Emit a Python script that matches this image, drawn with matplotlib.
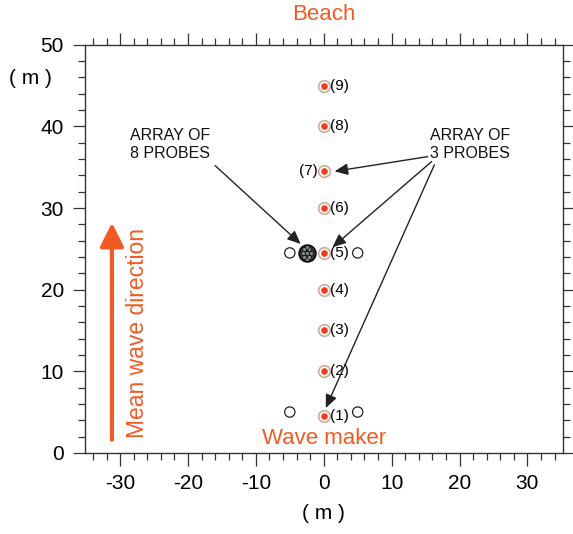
import numpy as np
import matplotlib.pyplot as plt
from matplotlib.ticker import MultipleLocator

plt.rcParams['font.family'] = ['Liberation Sans', 'DejaVu Sans']
plt.rcParams['axes.unicode_minus'] = False

ORANGE = '#f15a24'

# probe line along the centre of the basin
probe_y = [4.5, 10, 15, 20, 24.5, 30, 34.5, 40, 45]
probe_labels = ['(1)', '(2)', '(3)', '(4)', '(5)', '(6)', '(7)', '(8)', '(9)']

# side probes (open circles)
side_x = [-5, 5, -5, 5]
side_y = [5, 5, 24.5, 24.5]

# array of 8 probes
array8_x = -2.5
array8_y = 24.5

fig = plt.figure(figsize=(5.73, 5.34), dpi=100)
ax = fig.add_axes([0.148, 0.152, 0.834, 0.764])
ax.set_xlim(-35.2, 35.2)
ax.set_ylim(0, 50)

# ticks on all four sides, pointing out
ax.xaxis.set_major_locator(MultipleLocator(10))
ax.xaxis.set_minor_locator(MultipleLocator(2))
ax.yaxis.set_major_locator(MultipleLocator(10))
ax.yaxis.set_minor_locator(MultipleLocator(2))
ax.tick_params(which='both', direction='out', top=True, right=True,
               labeltop=False, labelright=False, width=0.9, color='#333333')
ax.tick_params(which='major', length=9, labelsize=15, pad=6)
ax.tick_params(which='minor', length=5)
for s in ax.spines.values():
    s.set_linewidth(1.0)
    s.set_color('#333333')

ax.set_xlabel('( m )', fontsize=15, labelpad=8)
fig.text(30 / 573, 1 - 78 / 534, '( m )', fontsize=15, ha='center', va='center')

# probes
ax.scatter(np.zeros(len(probe_y)), probe_y, s=70, facecolor='white',
           edgecolor='#c9ada0', linewidth=1.2, zorder=3)
ax.scatter(np.zeros(len(probe_y)), probe_y, s=14, color='#f03c1e', zorder=4)
for y, lab in zip(probe_y, probe_labels):
    if lab == '(7)':
        ax.text(-0.9, y, lab, fontsize=11, ha='right', va='center')
    else:
        ax.text(0.9, y, lab, fontsize=11, ha='left', va='center')

ax.scatter(side_x, side_y, s=55, facecolor='none', edgecolor='#222222',
           linewidth=0.9, zorder=3)

# cluster of 8 probes
ax.scatter([array8_x], [array8_y], s=150, facecolor='#333333',
           edgecolor='black', linewidth=1, zorder=3)
ang = np.linspace(0, 2 * np.pi, 8, endpoint=False)
ax.scatter(array8_x + 0.55 * np.cos(ang), array8_y + 0.7 * np.sin(ang), s=8,
           facecolor='#888888', edgecolor='black', linewidth=0.4, zorder=4)
ax.scatter([array8_x], [array8_y], s=8, facecolor='#888888', edgecolor='black',
           linewidth=0.4, zorder=4)

# annotations
arrow = dict(arrowstyle='-|>,head_length=0.5,head_width=0.22', color='#222222',
             lw=1.0, mutation_scale=16, shrinkA=0, shrinkB=0)
ax.text(-22.6, 37.8, 'ARRAY OF\n8 PROBES', fontsize=11.5, ha='center',
        va='center', linespacing=1.2, color='#111111')
ax.annotate('', xy=(-3.4, 25.6), xytext=(-16, 35.2), arrowprops=arrow)

ax.text(21.5, 37.8, 'ARRAY OF\n3 PROBES', fontsize=11.5, ha='center',
        va='center', linespacing=1.2, color='#111111')
ax.annotate('', xy=(1.6, 34.5), xytext=(15.3, 36.3), arrowprops=arrow)
ax.annotate('', xy=(1.3, 25.2), xytext=(15.9, 35.7), arrowprops=arrow)
ax.annotate('', xy=(0.3, 5.5), xytext=(16.3, 35.3), arrowprops=arrow)

# beach / wave maker / wave direction
fig.text(324 / 573, 1 - 15 / 534, 'Beach', color=ORANGE, fontsize=16,
         ha='center', va='center')
ax.text(0, 1.8, 'Wave maker', color=ORANGE, fontsize=16, ha='center',
        va='center')
ax.text(-27.4, 14.7, 'Mean wave direction', color=ORANGE, fontsize=16.5,
        rotation=90, ha='center', va='center')
ax.annotate('', xy=(-31.2, 28.2), xytext=(-31.2, 1.6),
            arrowprops=dict(arrowstyle='-|>,head_length=0.9,head_width=0.45',
                            color=ORANGE, lw=3, mutation_scale=16,
                            shrinkA=0, shrinkB=0))

fig.savefig('out.png', dpi=100)
